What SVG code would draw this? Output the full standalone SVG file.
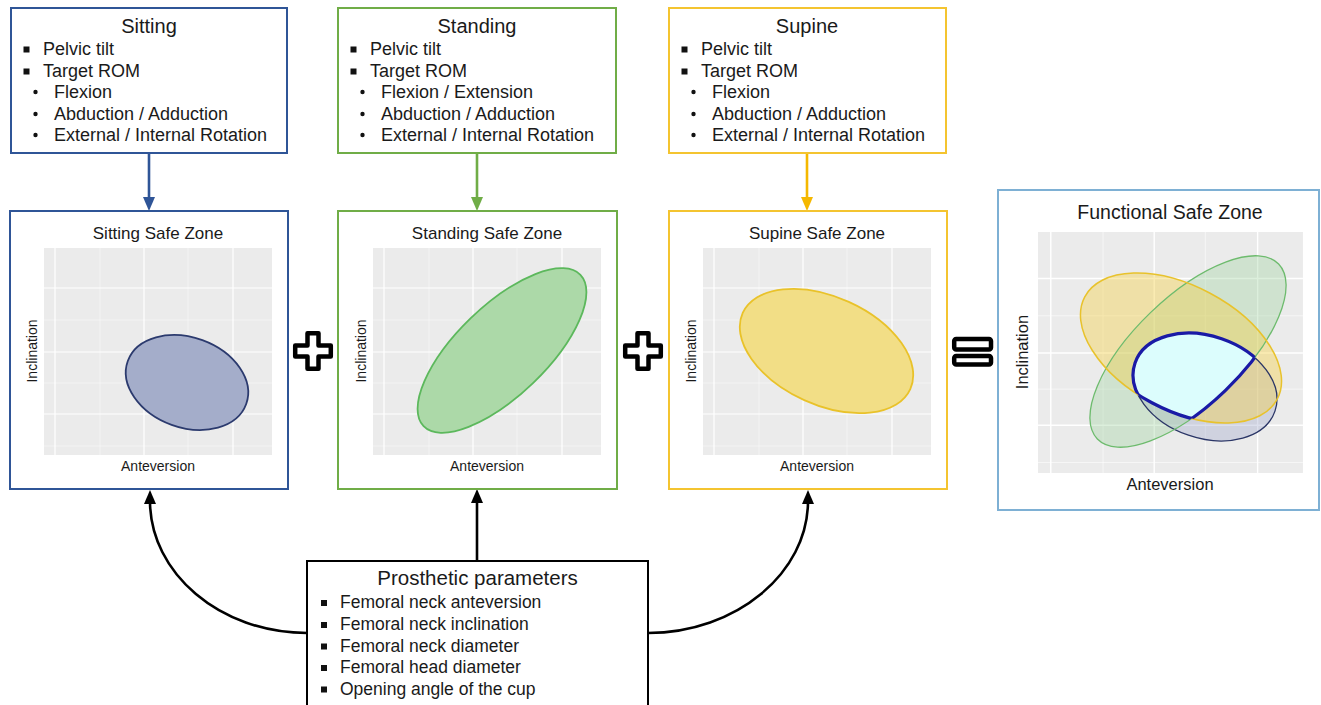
<svg xmlns="http://www.w3.org/2000/svg" xmlns:xlink="http://www.w3.org/1999/xlink" width="1321" height="705" viewBox="0 0 1321 705">
<style>
text{font-family:"Liberation Sans",Arial,sans-serif;fill:#1a1a1a}
.box{fill:#fff;stroke-width:2}
.title{font-size:20px;text-anchor:middle}
.item{font-size:18px}
.ptitle{font-size:17px;text-anchor:middle}
.axis{font-size:14px;text-anchor:middle}
.faxis{font-size:16.5px;text-anchor:middle}
.sq{fill:#111}
.dot{fill:#111}
.major{stroke:#fff;stroke-width:1.2}
.minor{stroke:#fff;stroke-width:0.6;stroke-opacity:0.8}
.sign{fill:#fff;stroke:#000;stroke-width:4.5;stroke-linejoin:round}
.conn{fill:none;stroke-width:2.6}
</style>
<defs>
<marker id="ahBlue" viewBox="0 0 14 12" refX="3" refY="6" markerWidth="14" markerHeight="12" markerUnits="userSpaceOnUse" orient="auto"><path d="M0,0 L14,6 L0,12 z" fill="#2f5597"/></marker>
<marker id="ahGreen" viewBox="0 0 14 12" refX="3" refY="6" markerWidth="14" markerHeight="12" markerUnits="userSpaceOnUse" orient="auto"><path d="M0,0 L14,6 L0,12 z" fill="#70ad47"/></marker>
<marker id="ahGold" viewBox="0 0 14 12" refX="3" refY="6" markerWidth="14" markerHeight="12" markerUnits="userSpaceOnUse" orient="auto"><path d="M0,0 L14,6 L0,12 z" fill="#f5b800"/></marker>
<marker id="ahBlack" viewBox="0 0 14 12" refX="3" refY="6" markerWidth="14" markerHeight="12" markerUnits="userSpaceOnUse" orient="auto"><path d="M0,0 L14,6 L0,12 z" fill="#000"/></marker>
<g id="grid">
<rect x="0" y="0" width="228" height="207" fill="#ebebeb"/>
<line class="major" x1="11" y1="0" x2="11" y2="207"/>
<line class="minor" x1="56" y1="0" x2="56" y2="207"/>
<line class="major" x1="100" y1="0" x2="100" y2="207"/>
<line class="minor" x1="144" y1="0" x2="144" y2="207"/>
<line class="major" x1="189" y1="0" x2="189" y2="207"/>
<line class="major" x1="0" y1="40" x2="228" y2="40"/>
<line class="minor" x1="0" y1="72" x2="228" y2="72"/>
<line class="major" x1="0" y1="104" x2="228" y2="104"/>
<line class="minor" x1="0" y1="135" x2="228" y2="135"/>
<line class="major" x1="0" y1="166" x2="228" y2="166"/>
<line class="minor" x1="0" y1="198" x2="228" y2="198"/>
</g>
<path id="plus" class="sign" d="M-5.5,-17.8 H5.5 V-5.5 H17.8 V5.5 H5.5 V17.8 H-5.5 V5.5 H-17.8 V-5.5 H-5.5 Z"/>
<clipPath id="cNavy"><ellipse cx="0" cy="0" rx="74" ry="51" transform="translate(1205,387) rotate(19)"/></clipPath>
<clipPath id="cGreen"><ellipse cx="0" cy="0" rx="126" ry="54" transform="translate(1188,351.5) rotate(-44)"/></clipPath>
<clipPath id="cYellow"><ellipse cx="0" cy="0" rx="109" ry="62" transform="translate(1181,348) rotate(28)"/></clipPath>
</defs>
<rect width="1321" height="705" fill="#fff"/>

<g id="connectors">
<path class="conn" stroke="#2f5597" d="M149,153 V200" marker-end="url(#ahBlue)"/>
<path class="conn" stroke="#70ad47" d="M477,153 V200" marker-end="url(#ahGreen)"/>
<path class="conn" stroke="#f5b800" d="M807,153 V200" marker-end="url(#ahGold)"/>
<path class="conn" stroke="#000" d="M477,561 V500" marker-end="url(#ahBlack)"/>
<path class="conn" stroke="#000" d="M307,633 C220,633 150,573 150,501" marker-end="url(#ahBlack)"/>
<path class="conn" stroke="#000" d="M648,633 C736,633 808,573 808,501" marker-end="url(#ahBlack)"/>
</g>

<g id="sitting">
<rect class="box" x="11" y="8" width="276" height="145" stroke="#2f5597"/>
<text class="title" x="149" y="33">Sitting</text>
<rect class="sq" x="23.5" y="46.5" width="6" height="6"/>
<text class="item" x="43" y="55">Pelvic tilt</text>
<rect class="sq" x="23.5" y="68.5" width="6" height="6"/>
<text class="item" x="43" y="77">Target ROM</text>
<circle class="dot" cx="35.5" cy="92" r="2.2"/>
<text class="item" x="54" y="98">Flexion</text>
<circle class="dot" cx="35.5" cy="114" r="2.2"/>
<text class="item" x="54" y="120">Abduction / Adduction</text>
<circle class="dot" cx="35.5" cy="135" r="2.2"/>
<text class="item" x="54" y="141">External / Internal Rotation</text>
</g>

<g id="standing">
<rect class="box" x="338" y="8" width="278" height="145" stroke="#70ad47"/>
<text class="title" x="477" y="33">Standing</text>
<rect class="sq" x="350.5" y="46.5" width="6" height="6"/>
<text class="item" x="370" y="55">Pelvic tilt</text>
<rect class="sq" x="350.5" y="68.5" width="6" height="6"/>
<text class="item" x="370" y="77">Target ROM</text>
<circle class="dot" cx="362.5" cy="92" r="2.2"/>
<text class="item" x="381" y="98">Flexion / Extension</text>
<circle class="dot" cx="362.5" cy="114" r="2.2"/>
<text class="item" x="381" y="120">Abduction / Adduction</text>
<circle class="dot" cx="362.5" cy="135" r="2.2"/>
<text class="item" x="381" y="141">External / Internal Rotation</text>
</g>

<g id="supine">
<rect class="box" x="669" y="8" width="277" height="145" stroke="#f4c430"/>
<text class="title" x="807" y="33">Supine</text>
<rect class="sq" x="681.5" y="46.5" width="6" height="6"/>
<text class="item" x="701" y="55">Pelvic tilt</text>
<rect class="sq" x="681.5" y="68.5" width="6" height="6"/>
<text class="item" x="701" y="77">Target ROM</text>
<circle class="dot" cx="693.5" cy="92" r="2.2"/>
<text class="item" x="712" y="98">Flexion</text>
<circle class="dot" cx="693.5" cy="114" r="2.2"/>
<text class="item" x="712" y="120">Abduction / Adduction</text>
<circle class="dot" cx="693.5" cy="135" r="2.2"/>
<text class="item" x="712" y="141">External / Internal Rotation</text>
</g>

<g id="sitting-safe-zone">
<rect class="box" x="10" y="211" width="278" height="278" stroke="#2f5597"/>
<text class="ptitle" x="158" y="239">Sitting Safe Zone</text>
<use xlink:href="#grid" href="#grid" x="44" y="248"/>
<ellipse cx="0" cy="0" rx="63" ry="45" transform="translate(187,382.5) rotate(20)" fill="#a4adca" stroke="#2b3a6e" stroke-width="1.8"/>
<text class="axis" x="158" y="471">Anteversion</text>
<text class="axis" transform="translate(37,351) rotate(-90)">Inclination</text>
</g>

<g id="standing-safe-zone">
<rect class="box" x="338" y="211" width="279" height="278" stroke="#70ad47"/>
<text class="ptitle" x="487" y="239">Standing Safe Zone</text>
<use xlink:href="#grid" href="#grid" x="373" y="248"/>
<ellipse cx="0" cy="0" rx="109" ry="45" transform="translate(502,350.5) rotate(-44)" fill="#acd9a8" stroke="#5cb85c" stroke-width="1.8"/>
<text class="axis" x="487" y="471">Anteversion</text>
<text class="axis" transform="translate(366,351) rotate(-90)">Inclination</text>
</g>

<g id="supine-safe-zone">
<rect class="box" x="669" y="211" width="278" height="278" stroke="#f4c430"/>
<text class="ptitle" x="817" y="239">Supine Safe Zone</text>
<use xlink:href="#grid" href="#grid" x="703" y="248"/>
<ellipse cx="0" cy="0" rx="92" ry="54" transform="translate(826.5,351) rotate(24.4)" fill="#f2de86" stroke="#e9c22a" stroke-width="1.8"/>
<text class="axis" x="817" y="471">Anteversion</text>
<text class="axis" transform="translate(696,351) rotate(-90)">Inclination</text>
</g>

<g id="operators">
<use xlink:href="#plus" href="#plus" x="313" y="351"/>
<use xlink:href="#plus" href="#plus" x="643" y="351"/>
<rect class="sign" x="954.2" y="339" width="36.8" height="10.5" rx="2"/>
<rect class="sign" x="954.2" y="356" width="36.8" height="8.5" rx="2"/>
</g>

<g id="functional-safe-zone">
<rect class="box" x="998" y="190" width="321" height="320" stroke="#7eb0d4"/>
<text x="1170" y="219" style="font-size:19.5px;text-anchor:middle">Functional Safe Zone</text>
<use xlink:href="#grid" href="#grid" transform="translate(1038,232) scale(1.162,1.164)"/>
<ellipse cx="0" cy="0" rx="74" ry="51" transform="translate(1205,387) rotate(19)" fill="#9aa2c8" fill-opacity="0.35"/>
<ellipse cx="0" cy="0" rx="126" ry="54" transform="translate(1188,351.5) rotate(-44)" fill="#9ad29a" fill-opacity="0.35"/>
<ellipse cx="0" cy="0" rx="109" ry="62" transform="translate(1181,348) rotate(28)" fill="#f5d040" fill-opacity="0.4"/>
<ellipse cx="0" cy="0" rx="74" ry="51" transform="translate(1205,387) rotate(19)" fill="none" stroke="#2a3566" stroke-width="1.3"/>
<ellipse cx="0" cy="0" rx="126" ry="54" transform="translate(1188,351.5) rotate(-44)" fill="none" stroke="#6dbb6d" stroke-width="1.3"/>
<ellipse cx="0" cy="0" rx="109" ry="62" transform="translate(1181,348) rotate(28)" fill="none" stroke="#e8c22c" stroke-width="1.5"/>
<g clip-path="url(#cGreen)"><g clip-path="url(#cYellow)">
<ellipse cx="0" cy="0" rx="74" ry="51" transform="translate(1205,387) rotate(19)" fill="#dcfdfd"/>
<ellipse cx="0" cy="0" rx="74" ry="51" transform="translate(1205,387) rotate(19)" fill="none" stroke="#1a1aa6" stroke-width="3.2"/>
</g></g>
<g clip-path="url(#cNavy)"><g clip-path="url(#cYellow)">
<ellipse cx="0" cy="0" rx="126" ry="54" transform="translate(1188,351.5) rotate(-44)" fill="none" stroke="#1a1aa6" stroke-width="3.2"/>
</g></g>
<g clip-path="url(#cNavy)"><g clip-path="url(#cGreen)">
<ellipse cx="0" cy="0" rx="109" ry="62" transform="translate(1181,348) rotate(28)" fill="none" stroke="#1a1aa6" stroke-width="3.2"/>
</g></g>
<text class="faxis" x="1170" y="490">Anteversion</text>
<text class="faxis" transform="translate(1028,352) rotate(-90)">Inclination</text>
</g>

<g id="prosthetic-parameters">
<rect class="box" x="307" y="561" width="341" height="170" stroke="#000"/>
<text x="477.5" y="585" style="font-size:20.5px;text-anchor:middle">Prosthetic parameters</text>
<rect class="sq" x="321" y="600" width="6" height="6"/>
<text class="item" x="340" y="608" style="font-size:17.5px">Femoral neck anteversion</text>
<rect class="sq" x="321" y="622" width="6" height="6"/>
<text class="item" x="340" y="630" style="font-size:17.5px">Femoral neck inclination</text>
<rect class="sq" x="321" y="643.5" width="6" height="6"/>
<text class="item" x="340" y="651.5" style="font-size:17.5px">Femoral neck diameter</text>
<rect class="sq" x="321" y="665" width="6" height="6"/>
<text class="item" x="340" y="673" style="font-size:17.5px">Femoral head diameter</text>
<rect class="sq" x="321" y="686.5" width="6" height="6"/>
<text class="item" x="340" y="694.5" style="font-size:17.5px">Opening angle of the cup</text>
</g>
</svg>
